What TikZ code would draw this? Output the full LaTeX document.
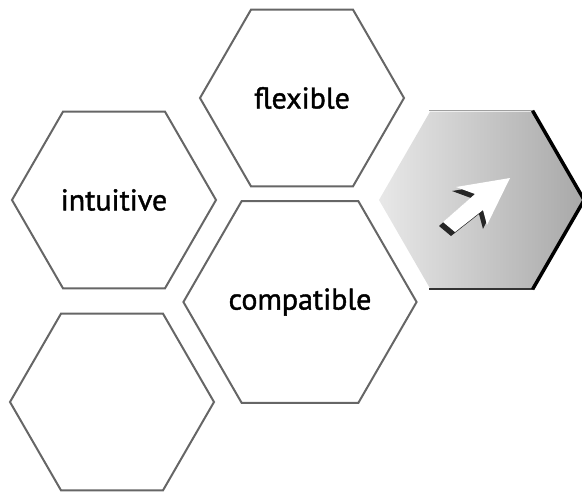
\documentclass[tikz,border=0pt]{standalone}
\usepackage{fontspec}
\setmainfont{PT Sans}
\newfontfamily\hexfont{PT Sans}[FakeBold=1.3]
\usetikzlibrary{shapes.geometric}

\tikzset{
	hexa/.style={regular polygon, regular polygon sides=6, minimum size=204pt,
		inner sep=0pt, draw=black!60, line width=2pt,
		font=\hexfont\fontsize{30}{36}\selectfont},
	seta/.style={line join=miter}
}

\begin{document}
\begin{tikzpicture}[x=1pt, y=-1pt]
\useasboundingbox (0,0) rectangle (582,493);

% Colmeia
\node[hexa] (I) at (114,200) {intuitive};
\node[hexa] (F) at (302,98) {flexible};
\node[hexa] (C) at (300,302) {compatible};
\node[hexa] (V) at (112,402) {};

% Hexagono cinza
\node[hexa, draw=none, left color=gray!18, right color=gray!68] (G) at (481,200) {};
	\draw[gray!75, line width=1.5pt] (G.120) -- (G.60);
	\draw[black!80, line width=2pt] (G.-60) -- (G.-120);
	\draw[black, line width=3.5pt, line join=round] (G.60) -- (G.0) -- (G.-60);

% Seta
	\fill[black!85, seta, shift={(-4,4)}] (510,178) -- (456,187) -- (475,194) -- (443,222)
		-- (455,232) -- (483,210) -- (487,225) -- cycle;
	\fill[white, seta] (510,178) -- (456,187) -- (475,194) -- (443,222)
		-- (455,232) -- (483,210) -- (487,225) -- cycle;
\end{tikzpicture}
\end{document}
